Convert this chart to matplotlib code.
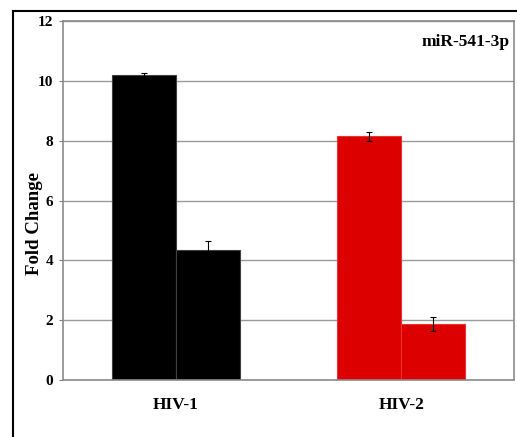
import matplotlib.pyplot as plt
from matplotlib.lines import Line2D
import numpy as np

groups = ["HIV-1", "HIV-2"]
first_values = [10.2, 8.14]
second_values = [4.35, 1.86]
first_errors = [0.07, 0.15]
second_errors = [0.3, 0.23]
colors = ["#000000", "#dd0000"]
edge_colors = ["#404040", "#ee3030"]


def main():
    plt.rcParams["font.family"] = ["Liberation Serif", "DejaVu Serif"]
    plt.rcParams["font.weight"] = "bold"

    fig = plt.figure(figsize=(5.17, 4.37), dpi=100)
    ax = fig.add_axes([63 / 517, 1 - 380 / 437, 451 / 517, 359 / 437])

    x = np.arange(len(groups))
    width = 0.284

    ax.bar(x - width / 2, first_values, width, color=colors,
           edgecolor=edge_colors, linewidth=0.8, zorder=2)
    ax.bar(x + width / 2, second_values, width, color=colors,
           edgecolor=edge_colors, linewidth=0.8, zorder=2)
    ax.errorbar(x - width / 2, first_values, yerr=first_errors, fmt="none",
                ecolor="black", elinewidth=0.8, capsize=2.5, capthick=0.8,
                zorder=3)
    ax.errorbar(x + width / 2, second_values, yerr=second_errors, fmt="none",
                ecolor="black", elinewidth=0.8, capsize=2.5, capthick=0.8,
                zorder=3)

    ax.set_xlim(-0.5, 1.5)
    ax.set_ylim(0, 12)
    ax.set_yticks(range(0, 13, 2))
    ax.set_xticks(x)
    ax.set_xticklabels(groups, fontsize=12.5, fontweight="bold")
    ax.tick_params(axis="x", length=0, pad=12)
    ax.tick_params(axis="y", length=3, color="#808080", labelsize=11,
                   pad=4)
    for label in ax.get_yticklabels():
        label.set_fontweight("bold")

    ax.yaxis.grid(True, color="#9a9a9a", linewidth=1, zorder=0)
    ax.set_axisbelow(True)
    for spine in ax.spines.values():
        spine.set_color("#8a8a8a")
        spine.set_linewidth(1.2)

    ax.set_ylabel("Fold Change", fontsize=13.5, fontweight="bold")
    ax.yaxis.set_label_coords(-0.044, 0.437)
    ax.text(0.99, 0.965, "miR-541-3p", transform=ax.transAxes,
            ha="right", va="top", fontsize=12.5, fontweight="bold")

    # outer frame drawn in the original figure
    fx = 13 / 517
    fy = 1 - 11 / 437
    fig.add_artist(Line2D([fx, fx], [0, fy], color="black", linewidth=1.5,
                          transform=fig.transFigure))
    fig.add_artist(Line2D([fx, 1], [fy, fy], color="black", linewidth=1.5,
                          transform=fig.transFigure))

    fig.savefig("out.png", dpi=100)
    plt.close(fig)


if __name__ == "__main__":
    main()
